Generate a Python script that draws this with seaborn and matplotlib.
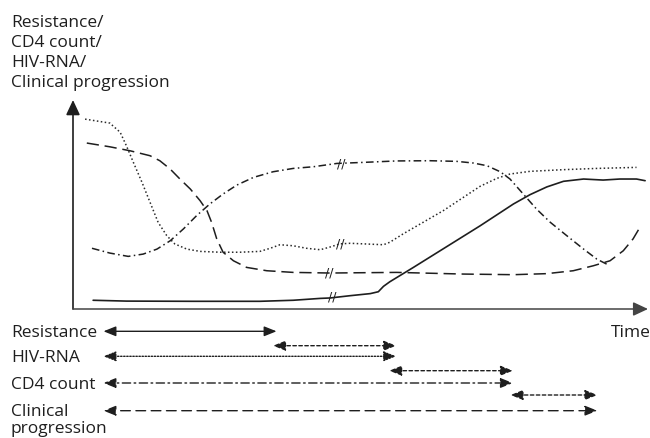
import numpy as np
import pandas as pd
import matplotlib
matplotlib.use("Agg")
import matplotlib.pyplot as plt
import seaborn as sns

sns.set_theme(style="white")
plt.rcParams["font.family"] = ["Open Sans", "DejaVu Sans"]

# ---------------- data (time 0-100, level 0-100) ----------------
resistance_t = [3.5, 9.3, 20.9, 32.5, 38.3, 43.0, 44.7, 48.2, 51.7, 53.1, 54.0, 55.1, 59.2,
                65.0, 70.8, 76.6, 79.5, 82.4, 85.3, 88.8, 92.2, 95.1, 98.0, 99.5]
resistance_v = [4.2, 3.8, 3.7, 3.7, 4.2, 5.1, 5.3, 6.4, 7.4, 8.3, 10.9, 13.1, 20.0,
                30.0, 40.0, 50.5, 55.0, 58.7, 61.4, 62.5, 62.0, 62.5, 62.5, 61.7]

hiv_t = [2.1, 6.4, 8.2, 9.3, 10.5, 12.0, 13.4, 14.8, 16.3, 17.7, 19.8, 22.1, 25.6, 29.0,
         32.5, 34.3, 36.0, 38.3, 40.6, 43.0, 44.7, 46.4, 48.2, 54.0, 55.1, 57.4, 60.9,
         64.4, 67.9, 70.8, 73.7, 76.0, 79.5, 85.3, 91.1, 98.0]
hiv_v = [91.3, 89.4, 85.0, 78.4, 70.5, 60.9, 51.3, 41.7, 35.3, 31.3, 28.8, 27.7, 27.3, 27.3,
         27.7, 29.2, 30.9, 30.4, 29.2, 28.5, 29.8, 31.3, 31.6, 30.9, 32.1, 36.1, 41.7,
         47.3, 53.7, 59.0, 62.8, 64.9, 66.2, 67.0, 67.6, 68.1]

cd4_t = [3.3, 6.4, 9.6, 12.2, 14.6, 16.9, 19.2, 21.5, 23.8, 26.1, 28.5, 31.4, 34.8, 38.3,
         41.8, 45.9, 50.5, 56.3, 62.1, 66.7, 69.6, 72.0, 74.3, 76.0, 78.3, 80.6, 83.0,
         85.9, 88.8, 91.1, 92.8]
cd4_v = [29.2, 26.9, 25.3, 26.4, 28.8, 32.8, 38.5, 44.9, 50.5, 55.3, 59.6, 63.3, 66.0, 67.6,
         68.4, 70.0, 70.5, 71.2, 71.3, 71.0, 70.2, 68.9, 66.0, 62.5, 55.3, 48.1, 41.7,
         35.2, 28.8, 24.0, 21.6]

clinical_t = [2.4, 6.4, 9.9, 13.4, 15.1, 16.9, 18.6, 20.4, 22.1, 23.3, 24.1, 25.0, 26.1,
              27.9, 30.2, 33.7, 38.3, 44.7, 56.3, 67.9, 76.6, 82.4, 87.0, 90.5, 93.4,
              95.7, 97.4, 98.6]
clinical_v = [79.8, 78.0, 76.1, 73.7, 71.3, 67.3, 62.5, 57.7, 52.1, 47.3, 41.7, 33.7, 27.3,
              23.2, 20.0, 18.4, 17.6, 17.3, 17.6, 16.8, 16.5, 17.0, 18.4, 20.8, 23.2,
              28.0, 33.7, 39.3]

# break marks (time, level) on each curve
break_t = [45.0, 46.4, 46.6, 44.5]
break_v = [6.3, 31.7, 70.2, 17.8]

# time bars below the chart
marker_names = ["Resistance", "HIV-RNA", "CD4 count", "Clinical"]
marker_start = [5.3, 5.3, 5.3, 5.3]
marker_end = [35.4, 56.2, 76.5, 91.2]
window_start = [34.8, 55.0, 76.1]
window_end = [56.2, 76.5, 91.2]

title_lines = ["Resistance/", "CD4 count/", "HIV-RNA/", "Clinical progression"]

# ---------------- figure ----------------
W, H = 650, 439
fig = plt.figure(figsize=(W / 100, H / 100), dpi=100)
fig.patch.set_facecolor("white")

def fx(px):
    return px / W

def fy(py):
    return 1 - py / H

ax = fig.add_axes([fx(73), fy(310), fx(648) - fx(73), fy(101) - fy(310)])
ax.set_xlim(0, 100)
ax.set_ylim(0, 100.5)
ax.axis("off")

ink = "#1e1e1e"
styles = [
    (resistance_t, resistance_v, "-", 1.2, ink),
    (hiv_t, hiv_v, (0, (1.0, 1.6)), 1.1, "#2a2a2a"),
    (cd4_t, cd4_v, (0, (5.0, 2.2, 1.0, 2.2)), 1.1, ink),
    (clinical_t, clinical_v, (0, (8.0, 3.8)), 1.1, ink),
]
for t, v, ls, lw, c in styles:
    df = pd.DataFrame({"t": t, "v": v})
    sns.lineplot(data=df, x="t", y="v", ax=ax, color=c, lw=lw, linestyle=ls,
                 sort=False, estimator=None, legend=False)

for bt, bv in zip(break_t, break_v):
    ax.text(bt, bv, "//", ha="center", va="center", fontsize=9, color=ink,
            family="DejaVu Sans")

# axes with arrows
ax.annotate("", xy=(0, 1), xytext=(0, 0), xycoords="axes fraction",
            arrowprops=dict(arrowstyle="-|>,head_length=0.9,head_width=0.42",
                            mutation_scale=10, color=ink, lw=1.2,
                            shrinkA=0, shrinkB=0))
ax.annotate("", xy=(1.0, 0), xytext=(0, 0), xycoords="axes fraction",
            arrowprops=dict(arrowstyle="-|>,head_length=0.9,head_width=0.42",
                            mutation_scale=10, color="#444444", lw=1.1,
                            shrinkA=0, shrinkB=0))

# lower panel for the interval arrows
ax2 = fig.add_axes([fx(73), fy(439), fx(648) - fx(73), fy(318) - fy(439)])
ax2.set_xlim(0, 100)
ax2.set_ylim(121, 0)
ax2.axis("off")

marker_rows = [14.3, 39.3, 66.0, 93.7]
window_rows = [28.7, 53.7, 78.0]
marker_styles = [("-", ink, 1.0),
                 ((0, (1.0, 1.2)), "#888888", 1.0),
                 ((0, (6.0, 2.5, 1.2, 2.5)), "#444444", 1.0),
                 ((0, (7.0, 4.0)), ink, 1.0)]
head = "<|-|>,head_length=0.75,head_width=0.3"
for s, e, y, (ls, c, lw) in zip(marker_start, marker_end, marker_rows, marker_styles):
    ax2.annotate("", xy=(e, y), xytext=(s, y), xycoords="data",
                 arrowprops=dict(arrowstyle=head, mutation_scale=10, color=ink,
                                 lw=lw, linestyle=ls, shrinkA=0, shrinkB=0))
for s, e, y in zip(window_start, window_end, window_rows):
    ax2.annotate("", xy=(e, y), xytext=(s, y), xycoords="data",
                 arrowprops=dict(arrowstyle=head, mutation_scale=10, color=ink,
                                 lw=1.0, linestyle=(0, (2.5, 1.8)), shrinkA=0, shrinkB=0))

# texts
fs = 12.5
title_base = [27, 47, 67, 87]
for line, b in zip(title_lines, title_base):
    fig.text(fx(11), fy(b), line, ha="left", va="baseline", fontsize=fs, color=ink)
label_base = [337, 362.5, 389, 416.5]
for name, b in zip(marker_names, label_base):
    fig.text(fx(11), fy(b), name, ha="left", va="baseline", fontsize=fs, color=ink)
fig.text(fx(11), fy(433.5), "progression", ha="left", va="baseline", fontsize=fs, color=ink)
fig.text(fx(611), fy(337), "Time", ha="left", va="baseline", fontsize=fs, color=ink)

fig.savefig("out.png", dpi=100, facecolor="white")
